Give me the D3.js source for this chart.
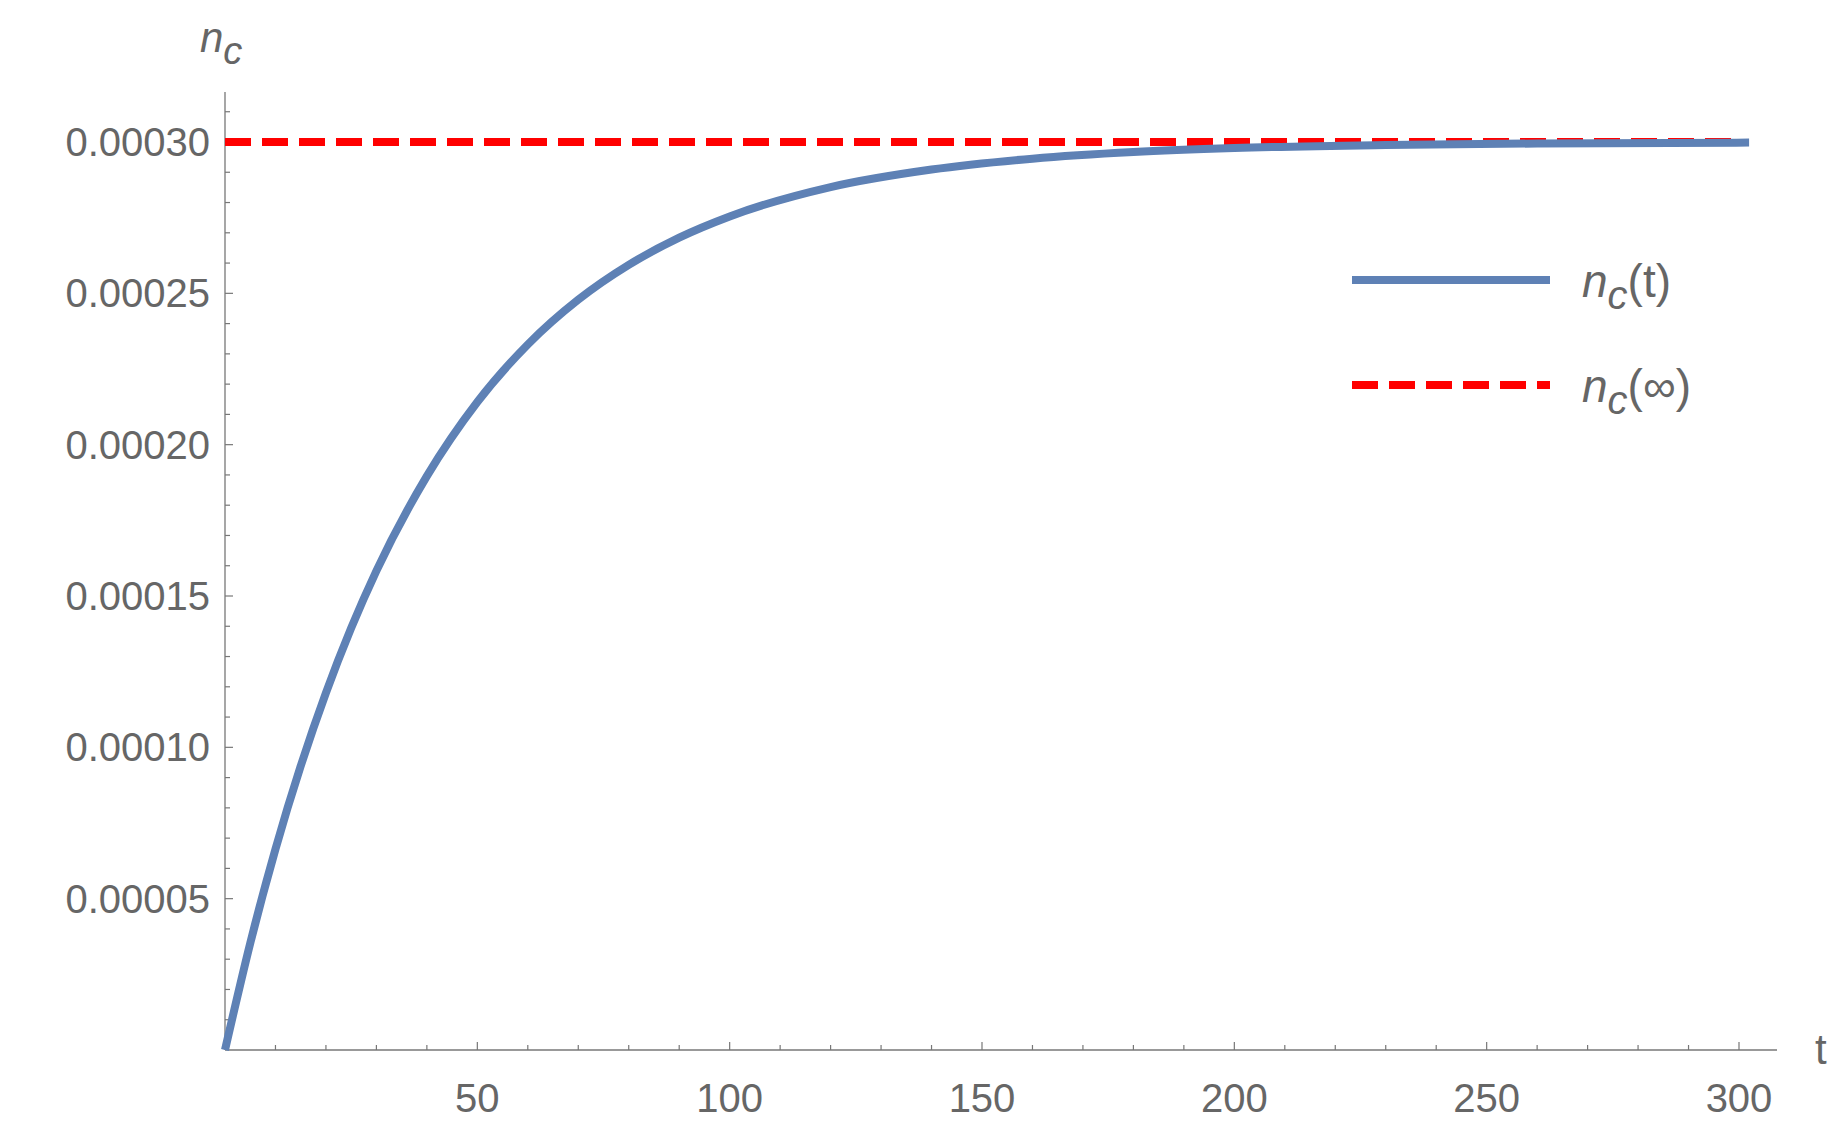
<!DOCTYPE html><html><head><meta charset="utf-8"><script src="https://cdn.jsdelivr.net/npm/d3@7"></script>
<style>body{margin:0;background:#fff}text{font-family:"Liberation Sans",Arial,sans-serif;fill:#666}</style></head><body>
<svg id="c" width="1845" height="1139"></svg>
<script>
const tValues=[0,5,10,15,20,25,30,40,50,60,70,80,90,100,120,140,160,180,200,230,260,302];
const ncValues=[0,0.0000353,0.0000664,0.0000938,0.000118,0.0001394,0.0001583,0.0001896,0.0002141,0.0002331,0.0002479,0.0002594,0.0002684,0.0002754,0.0002851,0.0002909,0.0002945,0.0002967,0.000298,0.000299,0.0002995,0.0002998];
const ncInf=0.0003;
const xTicks=[50,100,150,200,250,300];
const yTicks=[0.00005,0.0001,0.00015,0.0002,0.00025,0.0003];
const yTickLabels=["0.00005","0.00010","0.00015","0.00020","0.00025","0.00030"];
const svg=d3.select("#c");
const x=d3.scaleLinear().domain([0,300]).range([225,1739]);
const y=d3.scaleLinear().domain([0,0.0003]).range([1050,142]);
const xEnd=1777,yTop=92;
const ax="#777";
svg.append("line").attr("x1",225).attr("x2",xEnd).attr("y1",1050).attr("y2",1050).attr("stroke",ax).attr("stroke-width",1.3);
svg.append("line").attr("x1",225).attr("x2",225).attr("y1",1050).attr("y2",yTop).attr("stroke",ax).attr("stroke-width",1.3);
d3.range(10,301,10).forEach(v=>{const maj=v%50===0;svg.append("line").attr("x1",x(v)).attr("x2",x(v)).attr("y1",1050).attr("y2",1050-(maj?8:5)).attr("stroke",ax).attr("stroke-width",1.2);});
d3.range(1,32).forEach(i=>{const v=i*0.00001;const maj=i%5===0;svg.append("line").attr("x1",225).attr("x2",225+(maj?8:5)).attr("y1",y(v)).attr("y2",y(v)).attr("stroke",ax).attr("stroke-width",1.2);});
xTicks.forEach(v=>svg.append("text").attr("x",x(v)).attr("y",1112).attr("text-anchor","middle").attr("font-size",40).text(v));
yTicks.forEach((v,i)=>svg.append("text").attr("x",210).attr("y",y(v)+14).attr("text-anchor","end").attr("font-size",40).text(yTickLabels[i]));
svg.append("text").attr("x",1815).attr("y",1064).attr("font-size",42).text("t");
const lab=svg.append("text").attr("x",200).attr("y",52).attr("font-size",42).attr("font-style","italic");
lab.append("tspan").text("n");lab.append("tspan").attr("dy",12).attr("font-size",38).text("c");
svg.append("line").attr("x1",x(0)).attr("x2",x(300)).attr("y1",y(ncInf)).attr("y2",y(ncInf)).attr("stroke","#f00").attr("stroke-width",8).attr("stroke-dasharray","26,11");
const line=d3.line().x((d,i)=>x(tValues[i])).y(d=>y(d)).curve(d3.curveMonotoneX);
svg.append("path").datum(ncValues).attr("d",line).attr("fill","none").attr("stroke","#5E81B5").attr("stroke-width",8);
function leg(yy,dash,col,label){svg.append("line").attr("x1",1352).attr("x2",1550).attr("y1",yy).attr("y2",yy).attr("stroke",col).attr("stroke-width",8).attr("stroke-dasharray",dash);
const t=svg.append("text").attr("x",1582).attr("y",yy+17).attr("font-size",46);
t.append("tspan").attr("font-style","italic").text("n");t.append("tspan").attr("font-style","italic").attr("dy",12).attr("font-size",40).text("c");t.append("tspan").attr("dy",-12).text(label);}
leg(280,null,"#5E81B5","(t)");
leg(385,"26,11","#f00","(∞)");
</script></body></html>
